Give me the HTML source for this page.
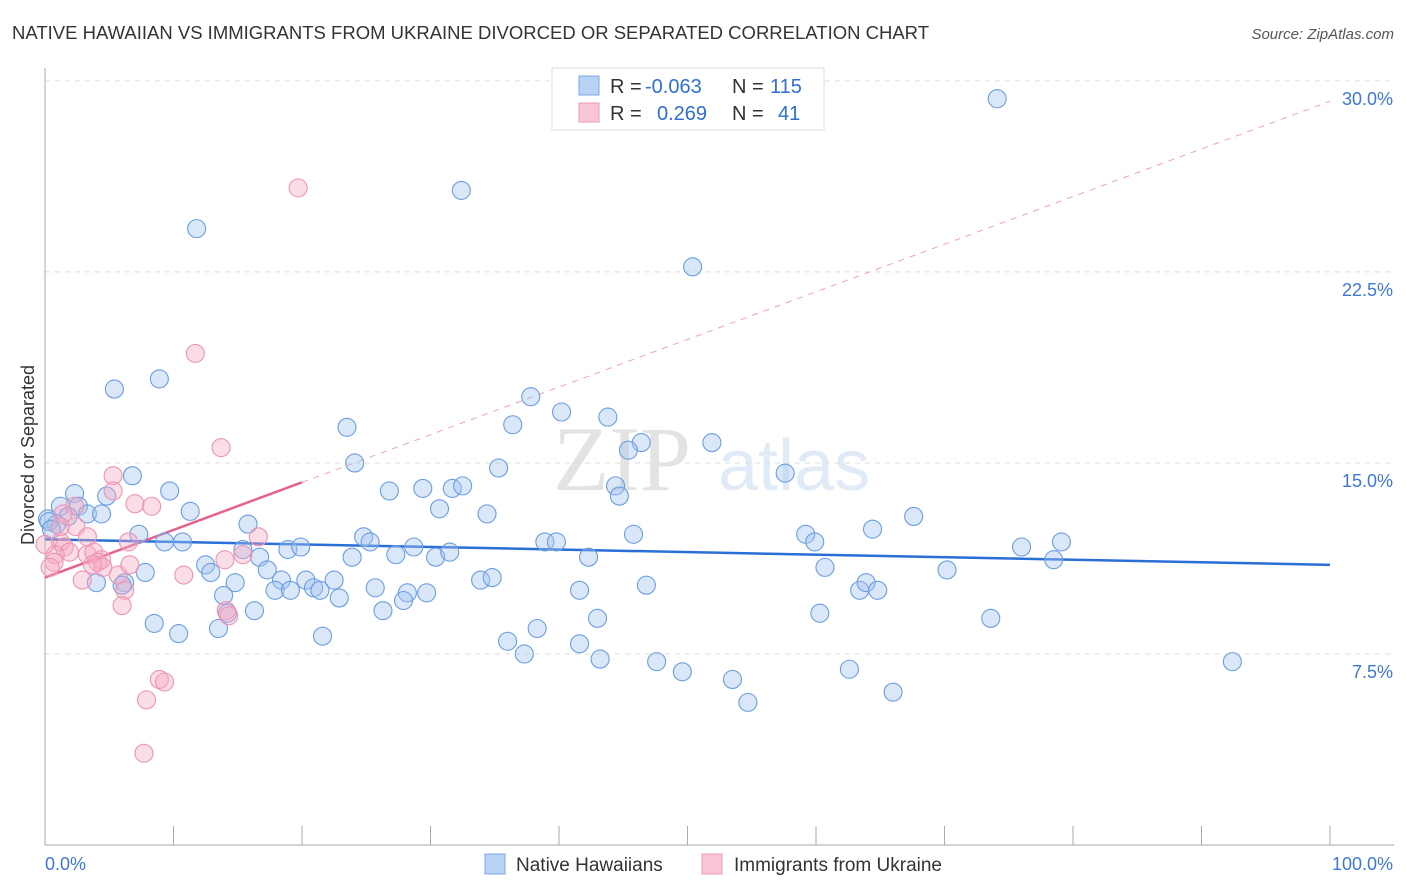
<!DOCTYPE html>
<html><head><meta charset="utf-8"><style>
body{margin:0;background:#fff;font-family:"Liberation Sans",sans-serif;}
svg{display:block}
</style></head><body>
<svg id="chart" width="1406" height="892" xmlns="http://www.w3.org/2000/svg" font-family="Liberation Sans, sans-serif">
<text x="12" y="39" font-size="18.5" fill="#333" textLength="917" lengthAdjust="spacingAndGlyphs">NATIVE HAWAIIAN VS IMMIGRANTS FROM UKRAINE DIVORCED OR SEPARATED CORRELATION CHART</text>
<text x="1394" y="39" font-size="15" fill="#555" text-anchor="end" font-style="italic">Source: ZipAtlas.com</text>
<g opacity="0.2">
<text x="553" y="490" font-size="92" font-family="Liberation Serif, serif" fill="#777">ZIP</text>
<text x="718" y="490" font-size="72" fill="#6d9fe0">atlas</text>
</g>
<g id="grid"></g>
<g id="axes"></g>
<g id="trend"></g>
<g id="pts"></g>
<text transform="translate(34,455) rotate(-90)" font-size="18" fill="#333" text-anchor="middle">Divorced or Separated</text>
<g>
<rect x="552" y="68" width="272" height="62" fill="#fff" stroke="#ddd"/>
<rect x="579" y="76" width="20" height="19" fill="#b8d3f5" stroke="#7aa7e4"/>
<rect x="579" y="103" width="20" height="19" fill="#f9c6d6" stroke="#ee9ab6"/>
<text x="610" y="93" font-size="20" fill="#333">R = <tspan x="645" fill="#2f6fd0">-0.063</tspan><tspan x="732">N = </tspan><tspan x="770" fill="#2f6fd0">115</tspan></text>
<text x="610" y="120" font-size="20" fill="#333">R = <tspan x="657" fill="#2f6fd0">0.269</tspan><tspan x="732">N = </tspan><tspan x="778" fill="#2f6fd0">41</tspan></text>
</g>
<g>
<rect x="485" y="854" width="20" height="20" fill="#b8d3f5" stroke="#7aa7e4"/>
<text x="516" y="871" font-size="19" fill="#333">Native Hawaiians</text>
<rect x="702" y="854" width="20" height="20" fill="#f9c6d6" stroke="#ee9ab6"/>
<text x="734" y="871" font-size="19" fill="#333">Immigrants from Ukraine</text>
</g>
</svg>
<script>
const yTicks=[7.5,15,22.5,30];
const yTickLabels=["7.5%","15.0%","22.5%","30.0%"];
const xTickLabels=["0.0%","100.0%"];
const blueX=[74.1,32.4,11.8,50.4,8.9,5.4,37.8,40.2,23.5,36.4,43.8,46.4,51.9,45.4,24.1,35.3,57.6,6.8,44.4,9.7,26.8,29.4,31.7,32.5,44.7,1.2,2.3,2.6,4.8,11.3,30.7,34.4,67.6,1.8,3.3,4.4,0.2,0.9,15.8,7.3,9.3,10.7,24.8,25.3,38.9,39.8,45.8,59.2,59.9,64.4,76.0,79.1,78.5,18.9,19.9,23.9,27.3,28.7,30.4,31.5,42.3,15.4,16.7,12.5,12.9,17.3,7.8,60.7,70.2,18.4,20.3,22.5,25.7,33.9,34.8,14.8,13.9,17.9,19.1,20.9,21.4,22.9,28.2,27.9,29.7,41.6,46.8,63.4,63.9,64.8,4.0,6.2,6.0,16.3,26.3,14.2,43.0,60.3,73.6,8.5,10.4,13.5,21.6,36.0,38.3,41.6,37.3,43.2,47.6,49.6,53.5,62.6,54.7,66.0,92.4,0.3,0.5];
const blueY=[29.3,25.7,24.2,22.7,18.3,17.9,17.6,17.0,16.4,16.5,16.8,15.8,15.8,15.5,15.0,14.8,14.6,14.5,14.1,13.9,13.9,14.0,14.0,14.1,13.7,13.3,13.8,13.3,13.7,13.1,13.2,13.0,12.9,12.9,13.0,13.0,12.8,12.6,12.6,12.2,11.9,11.9,12.1,11.9,11.9,11.9,12.2,12.2,11.9,12.4,11.7,11.9,11.2,11.6,11.7,11.3,11.4,11.7,11.3,11.5,11.3,11.6,11.3,11.0,10.7,10.8,10.7,10.9,10.8,10.4,10.4,10.4,10.1,10.4,10.5,10.3,9.8,10.0,10.0,10.1,10.0,9.7,9.9,9.6,9.9,10.0,10.2,10.0,10.3,10.0,10.3,10.3,10.2,9.2,9.2,9.1,8.9,9.1,8.9,8.7,8.3,8.5,8.2,8.0,8.5,7.9,7.5,7.3,7.2,6.8,6.5,6.9,5.6,6.0,7.2,12.7,12.4];
const pinkX=[19.7,11.7,13.7,5.3,5.3,7.0,8.3,2.3,1.4,2.4,16.6,1.2,1.5,1.9,0.8,3.3,3.8,4.4,6.5,0.7,0.4,4.1,4.5,5.7,6.6,10.8,2.9,6.2,15.4,14.0,6.0,14.1,14.3,8.9,9.3,7.9,7.7,0.0,1.2,3.3,3.7];
const pinkY=[25.8,19.3,15.6,14.5,13.9,13.4,13.3,13.3,13.0,12.5,12.1,11.9,11.7,11.5,11.4,11.4,11.5,11.2,11.9,11.1,10.9,11.1,10.9,10.6,11.0,10.6,10.4,10.0,11.4,11.2,9.4,9.2,9.0,6.5,6.4,5.7,3.6,11.8,12.5,12.1,11.0];
const blueTrend=[12.0,11.0];
const pinkTrend=[10.5,29.2];
const X0=45,X1=1330,Y0=845,PY=25.47;
const sx=v=>X0+(X1-X0)*v/100, sy=v=>Y0-PY*v;
const NS="http://www.w3.org/2000/svg";
function mk(p,t,a){const e=document.createElementNS(NS,t);for(const k in a)e.setAttribute(k,a[k]);p.appendChild(e);return e;}
const grid=document.getElementById('grid'),axes=document.getElementById('axes'),trend=document.getElementById('trend'),pts=document.getElementById('pts');
yTicks.forEach((t,i)=>{
 const l=mk(grid,'line',{x1:X0,x2:1394,y1:sy(t),y2:sy(t),stroke:'#ddd','stroke-dasharray':'5,5'});
 
 
 const tx=mk(grid,'text',{x:1393,y:sy(t)+24,'font-size':18,fill:'#3d78d6','text-anchor':'end'});
 tx.textContent=yTickLabels[i];
 
 
});
let a=mk(axes,'line',{x1:X0,x2:X0,y1:68,y2:Y0,stroke:'#aaa'});


a=mk(axes,'line',{x1:X0,x2:1394,y1:Y0,y2:Y0,stroke:'#aaa'});


for(let i=0;i<=10;i++){const t=mk(axes,'line',{x1:sx(i*10),x2:sx(i*10),y1:Y0,y2:Y0-19,stroke:'#aaa'});
 
 }
let xl=mk(axes,'text',{x:45,y:870,'font-size':18,fill:'#3d78d6'});xl.textContent=xTickLabels[0];


xl=mk(axes,'text',{x:1393,y:870,'font-size':18,fill:'#3d78d6','text-anchor':'end'});xl.textContent=xTickLabels[1];


function draw(xs,ys,fill,stroke,name){xs.forEach((x,i)=>{const c=mk(pts,'circle',{cx:sx(x),cy:sy(ys[i]),r:9,fill:fill,stroke:stroke,'stroke-width':1.1});
 
 });}
draw(blueX,blueY,'rgba(160,196,240,0.4)','#6b9ee0','point-native-hawaiian');
draw(pinkX,pinkY,'rgba(246,170,196,0.4)','#ee94b3','point-ukraine');
const pe=v=>pinkTrend[0]+(pinkTrend[1]-pinkTrend[0])*v/100;
let tl=mk(trend,'line',{x1:sx(20),y1:sy(pe(20)),x2:sx(100),y2:sy(pe(100)),stroke:'#eea0bb','stroke-dasharray':'6,6','stroke-width':1});


tl=mk(trend,'line',{x1:sx(0),y1:sy(blueTrend[0]),x2:sx(100),y2:sy(blueTrend[1]),stroke:'#2a6fd6','stroke-width':2.5});


tl=mk(trend,'line',{x1:sx(0),y1:sy(pe(0)),x2:sx(20),y2:sy(pe(20)),stroke:'#e8608c','stroke-width':2.5});


</script>
</body></html>
